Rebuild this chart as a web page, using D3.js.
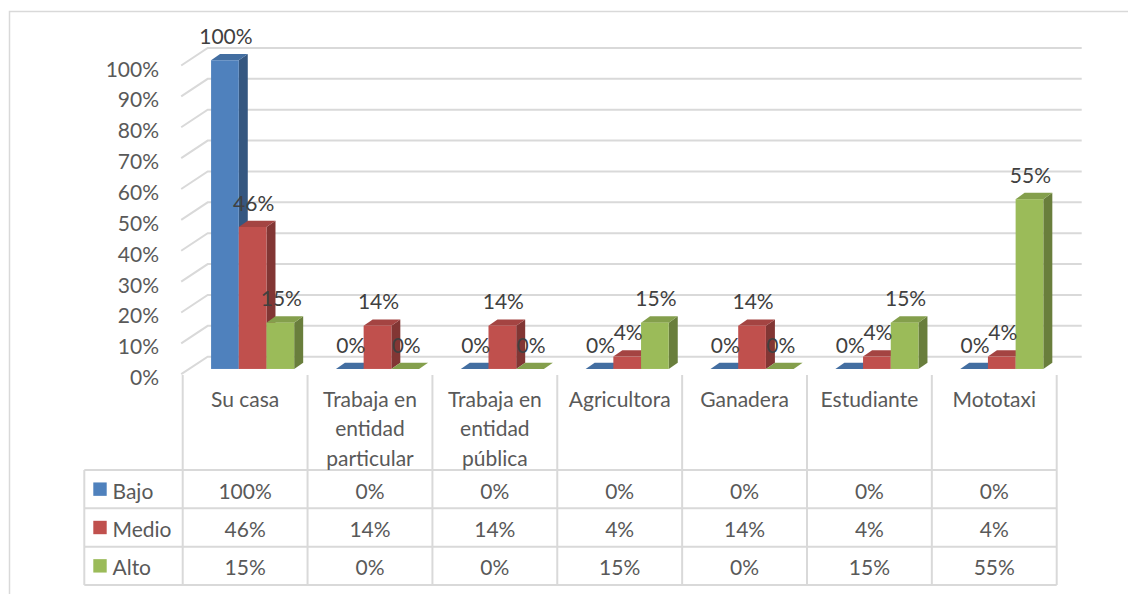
<html>
<head>
<meta charset="utf-8">
<script src="https://d3js.org/d3.v7.min.js"></script>
<style>
body { margin: 0; background: #fff; }
svg { display: block; font-family: Lato, 'Open Sans', sans-serif; }
</style>
</head>
<body>
<svg width="1128" height="594"></svg>
<script>

// chart data
var categories = ["Su casa", "Trabaja en entidad particular", "Trabaja en entidad pública",
  "Agricultora", "Ganadera", "Estudiante", "Mototaxi"];
var seriesNames = ["Bajo", "Medio", "Alto"];
var bajo  = [100, 0, 0, 0, 0, 0, 0];
var medio = [46, 14, 14, 4, 14, 4, 4];
var alto  = [15, 0, 0, 15, 0, 15, 55];
var yTicks = [0, 10, 20, 30, 40, 50, 60, 70, 80, 90, 100];
var colors = ["#4F81BD", "#C0504D", "#9BBB59"];

var values = [bajo, medio, alto];

var svg = d3.select("svg");
var fontSize = 21;

// outer frame
svg.append("path")
  .attr("d", "M9.5,594 V11.5 H1128")
  .attr("fill", "none").attr("stroke", "#d9d9d9").attr("stroke-width", 1.5);

// scales: x on the front plane, y on the back wall
var x = d3.scaleBand().domain(categories).range([182.7, 1056.7]);
var y = d3.scaleLinear().domain([0, 100]).range([356.7, 48]);
var DX = 25, DY = 17.5;   // depth offset front -> back

function px(xf, z) { return xf + z * DX; }
function py(v, z) { return y(v) + (1 - z) * DY; }

// gridlines
var grid = svg.append("g");
yTicks.forEach(function (t) {
  grid.append("path")
    .attr("d", "M" + px(x.range()[0] - 1.5, 0) + "," + py(t, 0) +
      " L" + px(x.range()[0], 1) + "," + py(t, 1) +
      " H" + px(x.range()[1], 1))
    .attr("fill", "none").attr("stroke", "#d9d9d9").attr("stroke-width", 2);
  grid.append("text")
    .attr("x", 159).attr("y", py(t, 0) + 2.5)
    .attr("text-anchor", "end").attr("dominant-baseline", "central")
    .attr("font-size", fontSize).attr("fill", "#595959")
    .text(t + "%");
});

// bars
var barW = 27.7, z0 = 0.3, z1 = 0.66;
var sub = d3.scaleBand().domain(seriesNames)
  .range([-1.5 * barW, 1.5 * barW]);

var bars = svg.append("g");
var labels = svg.append("g");
categories.forEach(function (c, i) {
  var cx = x(c) + x.bandwidth() / 2;
  seriesNames.forEach(function (s, j) {
    var v = values[j][i];
    var col = d3.color(colors[j]);
    var xl = cx + sub(s), xr = xl + barW;
    var g = bars.append("g");
    // side face
    g.append("path")
      .attr("d", "M" + px(xr, z0) + "," + py(0, z0) + " L" + px(xr, z1) + "," + py(0, z1) +
        " L" + px(xr, z1) + "," + py(v, z1) + " L" + px(xr, z0) + "," + py(v, z0) + "Z")
      .attr("fill", col.darker(1.1));
    // top face
    g.append("path")
      .attr("d", "M" + px(xl, z0) + "," + py(v, z0) + " L" + px(xr, z0) + "," + py(v, z0) +
        " L" + px(xr, z1) + "," + py(v, z1) + " L" + px(xl, z1) + "," + py(v, z1) + "Z")
      .attr("fill", col.darker(0.45));
    // front face
    g.append("rect")
      .attr("x", px(xl, z0)).attr("y", py(v, z0))
      .attr("width", barW).attr("height", py(0, z0) - py(v, z0))
      .attr("fill", col);
    labels.append("text")
      .attr("x", px(xl, z0) + barW / 2 + 1).attr("y", py(v, z1) - 18.5)
      .attr("text-anchor", "middle").attr("dominant-baseline", "central")
      .attr("font-size", fontSize).attr("fill", "#404040")
      .text(v + "%");
  });
});

// data table
var tTop = 375, rowY = [470, 508.3, 546.7, 585], tLeft = 84.3;
var table = svg.append("g").attr("stroke", "#d9d9d9").attr("stroke-width", 2);
rowY.forEach(function (ry) {
  table.append("line").attr("x1", tLeft).attr("x2", x.range()[1]).attr("y1", ry).attr("y2", ry);
});
table.append("line").attr("x1", tLeft).attr("x2", tLeft).attr("y1", rowY[0]).attr("y2", rowY[3]);
categories.forEach(function (c) {
  table.append("line").attr("x1", x(c)).attr("x2", x(c)).attr("y1", tTop).attr("y2", rowY[3]);
});
table.append("line").attr("x1", x.range()[1]).attr("x2", x.range()[1]).attr("y1", tTop).attr("y2", rowY[3]);

// header: wrapped category names
var head = svg.append("g");
categories.forEach(function (c) {
  var t = head.append("text")
    .attr("x", x(c) + x.bandwidth() / 2)
    .attr("text-anchor", "middle").attr("font-size", fontSize).attr("fill", "#595959");
  var words = c.split(" "), line = [], n = 0;
  var ts = t.append("tspan").attr("x", x(c) + x.bandwidth() / 2).attr("y", 398).attr("dominant-baseline", "central");
  words.forEach(function (w) {
    line.push(w);
    ts.text(line.join(" "));
    if (ts.node().getComputedTextLength() > x.bandwidth() - 6 && line.length > 1) {
      line.pop();
      ts.text(line.join(" "));
      line = [w];
      n++;
      ts = t.append("tspan").attr("x", x(c) + x.bandwidth() / 2).attr("y", 398 + n * 29.5)
        .attr("dominant-baseline", "central").text(w);
    }
  });
});

// rows: legend key + values
seriesNames.forEach(function (s, j) {
  var cy = (rowY[j] + rowY[j + 1]) / 2;
  svg.append("rect").attr("x", 93.3).attr("y", cy - 6.7).attr("width", 13.4).attr("height", 13.4)
    .attr("fill", colors[j]);
  svg.append("text").attr("x", 112.5).attr("y", cy + 1).attr("dominant-baseline", "central")
    .attr("font-size", fontSize).attr("fill", "#595959").text(s);
  categories.forEach(function (c, i) {
    svg.append("text").attr("x", x(c) + x.bandwidth() / 2).attr("y", cy + 1)
      .attr("text-anchor", "middle").attr("dominant-baseline", "central")
      .attr("font-size", fontSize).attr("fill", "#595959")
      .text(values[j][i] + "%");
  });
});

</script>
</body>
</html>
